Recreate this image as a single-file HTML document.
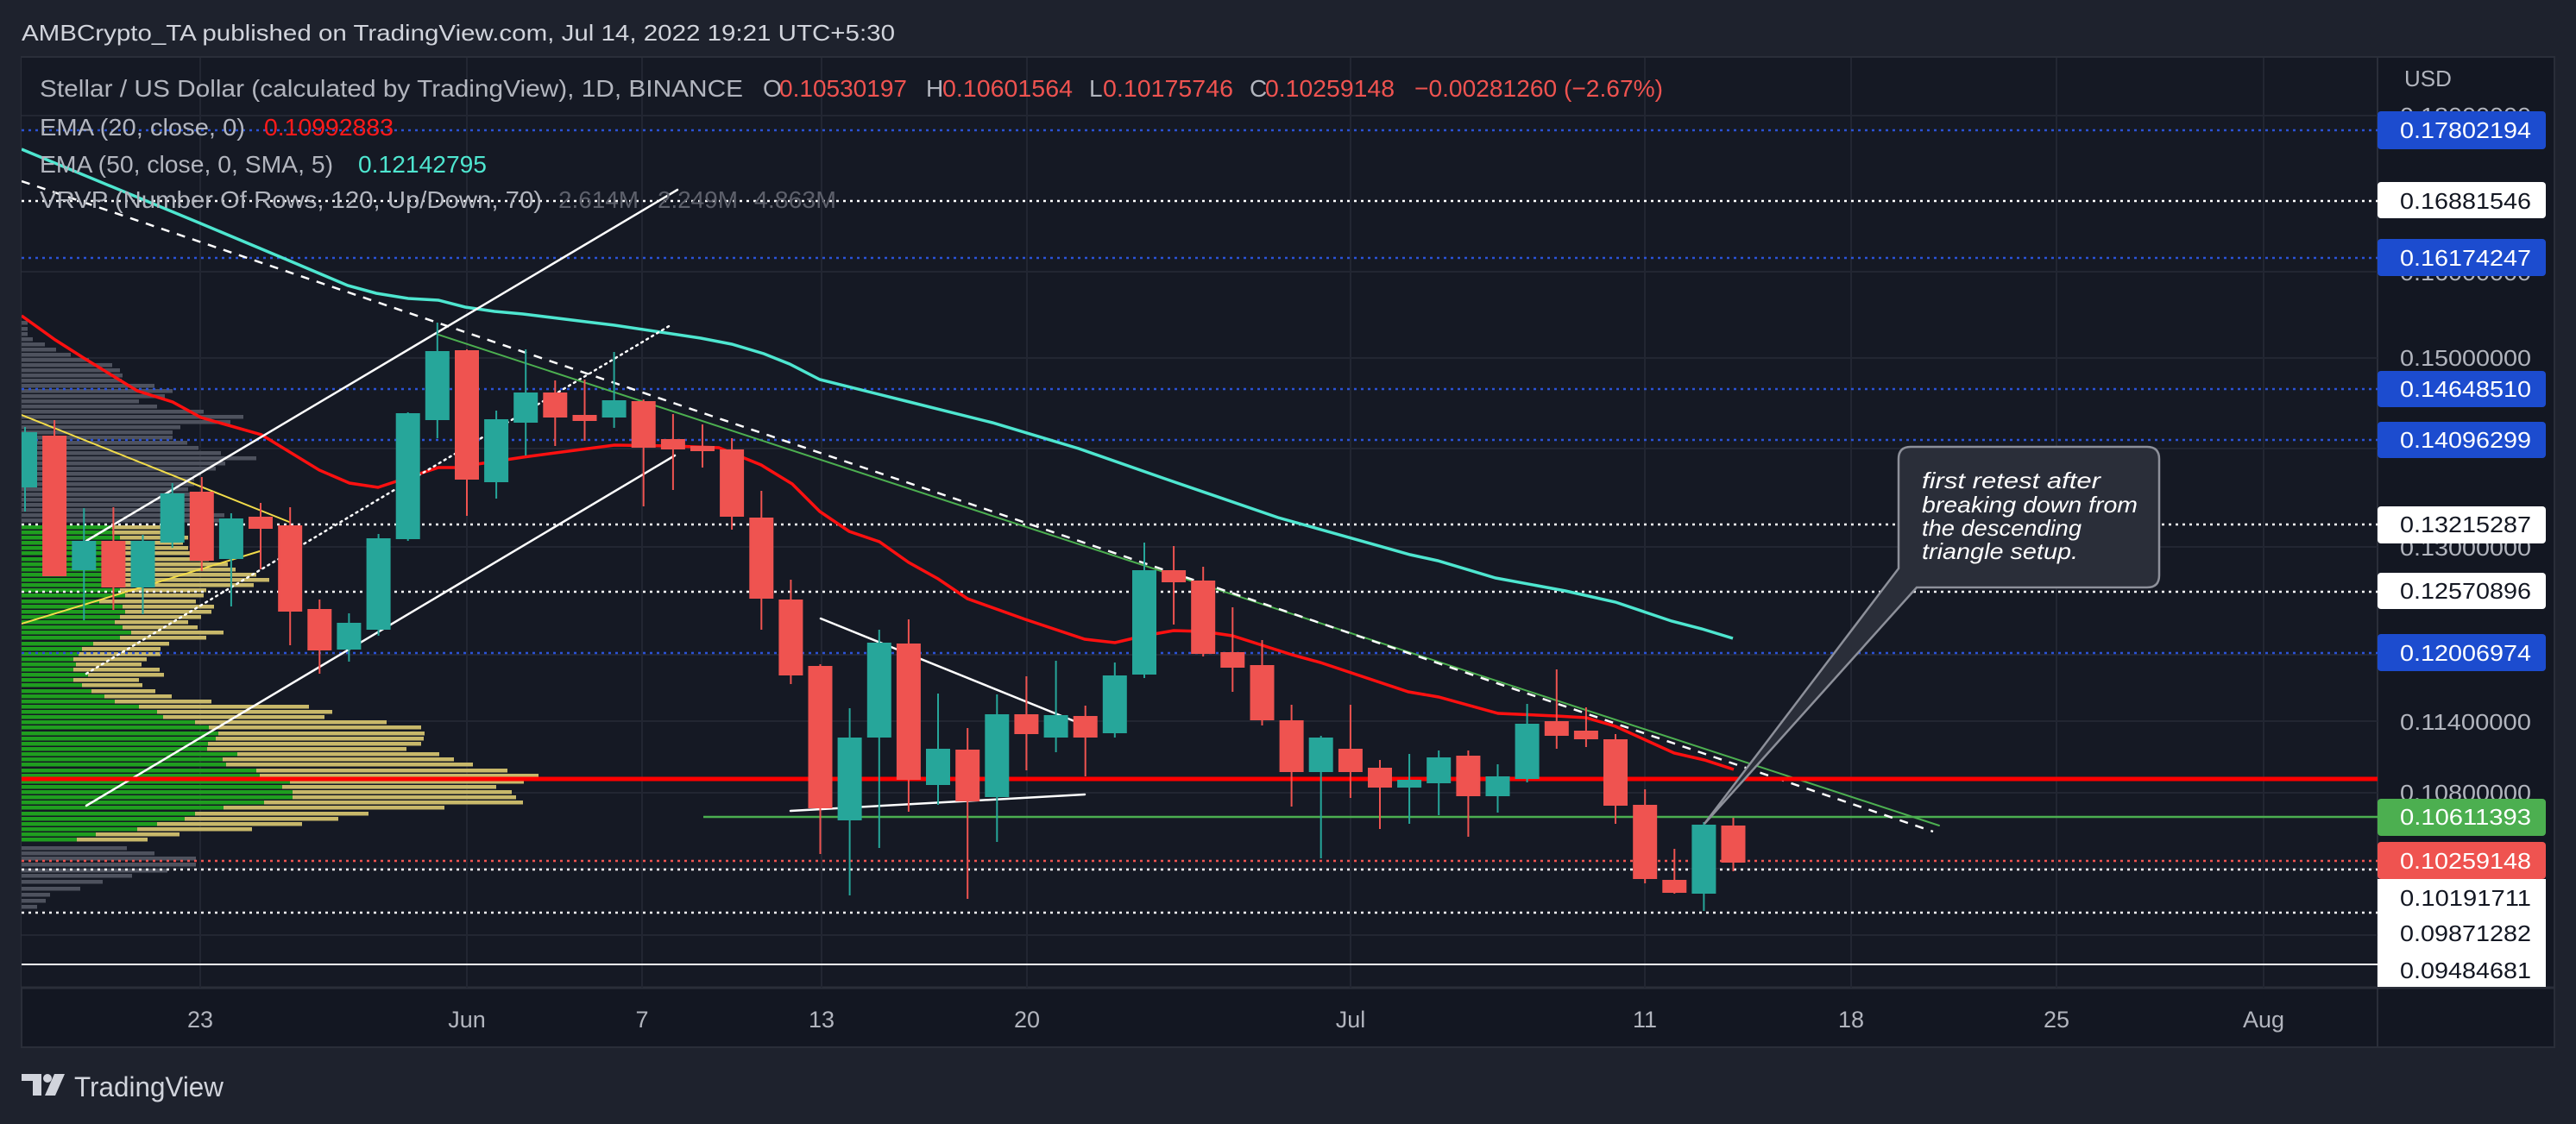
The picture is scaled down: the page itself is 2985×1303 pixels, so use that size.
<!DOCTYPE html>
<html><head><meta charset="utf-8"><style>
html,body{margin:0;padding:0;background:#1e222d;}
svg{display:block;font-family:"Liberation Sans",sans-serif;}
</style></head><body>
<svg width="2985" height="1303" viewBox="0 0 2985 1303" xmlns="http://www.w3.org/2000/svg">
<defs><clipPath id="pc"><rect x="25" y="67" width="2730" height="1078"/></clipPath></defs>
<rect width="2985" height="1303" fill="#1e222d"/>
<rect x="25" y="66" width="2935" height="1148" fill="#131722" stroke="#2a2e39" stroke-width="2"/>
<rect x="25" y="67" width="2730" height="1078" fill="#151924"/>
<line x1="2755" y1="66" x2="2755" y2="1214" stroke="#2a2e39" stroke-width="2"/>
<line x1="25" y1="1145" x2="2960" y2="1145" stroke="#2a2e39" stroke-width="3"/>

<g stroke="#222632" stroke-width="2">
<line x1="25" y1="134" x2="2755" y2="134"/><line x1="25" y1="315" x2="2755" y2="315"/><line x1="25" y1="415" x2="2755" y2="415"/><line x1="25" y1="520" x2="2755" y2="520"/><line x1="25" y1="634" x2="2755" y2="634"/><line x1="25" y1="759" x2="2755" y2="759"/><line x1="25" y1="836" x2="2755" y2="836"/><line x1="25" y1="919" x2="2755" y2="919"/><line x1="25" y1="1007" x2="2755" y2="1007"/><line x1="25" y1="1084" x2="2755" y2="1084"/>
<line x1="232" y1="67" x2="232" y2="1145"/><line x1="541" y1="67" x2="541" y2="1145"/><line x1="744" y1="67" x2="744" y2="1145"/><line x1="952" y1="67" x2="952" y2="1145"/><line x1="1190" y1="67" x2="1190" y2="1145"/><line x1="1565" y1="67" x2="1565" y2="1145"/><line x1="1906" y1="67" x2="1906" y2="1145"/><line x1="2145" y1="67" x2="2145" y2="1145"/><line x1="2383" y1="67" x2="2383" y2="1145"/><line x1="2623" y1="67" x2="2623" y2="1145"/>
</g>

<g clip-path="url(#pc)">
<!-- volume profile gray upper -->
<g fill="#4e525e">
<rect x="25" y="372" width="7" height="4.5"/><rect x="25" y="379" width="7" height="4.5"/><rect x="25" y="385" width="7" height="4.5"/><rect x="25" y="391" width="13" height="4.5"/><rect x="25" y="397" width="27" height="4.5"/><rect x="25" y="403" width="40" height="4.5"/><rect x="25" y="409" width="57" height="4.5"/><rect x="25" y="415" width="78" height="4.5"/><rect x="25" y="421" width="105" height="4.5"/><rect x="25" y="427" width="114" height="4.5"/><rect x="25" y="433" width="117" height="4.5"/><rect x="25" y="439" width="116" height="4.5"/><rect x="25" y="445" width="154" height="4.5"/><rect x="25" y="451" width="175" height="4.5"/><rect x="25" y="457" width="166" height="4.5"/><rect x="25" y="463" width="136" height="4.5"/><rect x="25" y="469" width="157" height="4.5"/><rect x="25" y="475" width="211" height="4.5"/><rect x="25" y="481" width="257" height="4.5"/><rect x="25" y="487" width="242" height="4.5"/><rect x="25" y="493" width="184" height="4.5"/><rect x="25" y="499" width="175" height="4.5"/><rect x="25" y="505" width="175" height="4.5"/><rect x="25" y="511" width="192" height="4.5"/><rect x="25" y="517" width="205" height="4.5"/><rect x="25" y="523" width="231" height="4.5"/><rect x="25" y="529" width="272" height="4.5"/><rect x="25" y="535" width="236" height="4.5"/><rect x="25" y="541" width="225" height="4.5"/><rect x="25" y="547" width="208" height="4.5"/><rect x="25" y="553" width="200" height="4.5"/><rect x="25" y="559" width="200" height="4.5"/><rect x="25" y="565" width="193" height="4.5"/><rect x="25" y="571" width="200" height="4.5"/><rect x="25" y="577" width="200" height="4.5"/><rect x="25" y="583" width="200" height="4.5"/><rect x="25" y="589" width="218" height="4.5"/><rect x="25" y="595" width="235" height="4.5"/><rect x="25" y="601" width="236" height="4.5"/>
<rect x="25" y="981" width="122" height="4.5"/><rect x="25" y="987" width="154" height="4.5"/><rect x="25" y="993" width="202" height="4.5"/><rect x="25" y="1000" width="202" height="4.5"/><rect x="25" y="1007" width="169" height="4.5"/><rect x="25" y="1013" width="128" height="4.5"/><rect x="25" y="1020" width="94" height="4.5"/><rect x="25" y="1028" width="68" height="4.5"/><rect x="25" y="1035" width="33" height="4.5"/><rect x="25" y="1042" width="28" height="4.5"/><rect x="25" y="1049" width="18" height="4.5"/>
</g>
<!-- yellow (down) parts -->
<g fill="#c8b86a">
<rect x="25" y="609" width="175" height="4.5"/><rect x="25" y="615" width="175" height="4.5"/><rect x="25" y="621" width="193" height="4.5"/><rect x="25" y="627" width="187" height="4.5"/><rect x="25" y="633" width="193" height="4.5"/><rect x="25" y="639" width="217" height="4.5"/><rect x="25" y="646" width="217" height="4.5"/><rect x="25" y="652" width="239" height="4.5"/><rect x="25" y="658" width="248" height="4.5"/><rect x="25" y="664" width="272" height="4.5"/><rect x="25" y="670" width="287" height="4.5"/><rect x="25" y="676" width="269" height="4.5"/><rect x="25" y="682" width="214" height="4.5"/><rect x="25" y="688" width="211" height="4.5"/><rect x="25" y="695" width="202" height="4.5"/><rect x="25" y="701" width="223" height="4.5"/><rect x="25" y="707" width="220" height="4.5"/><rect x="25" y="713" width="208" height="4.5"/><rect x="25" y="719" width="193" height="4.5"/><rect x="25" y="725" width="204" height="4.5"/><rect x="25" y="731" width="234" height="4.5"/><rect x="25" y="737" width="214" height="4.5"/><rect x="25" y="744" width="171" height="4.5"/><rect x="25" y="750" width="161" height="4.5"/><rect x="25" y="756" width="161" height="4.5"/><rect x="25" y="762" width="145" height="4.5"/><rect x="25" y="768" width="139" height="4.5"/><rect x="25" y="774" width="160" height="4.5"/><rect x="25" y="780" width="165" height="4.5"/><rect x="25" y="786" width="136" height="4.5"/><rect x="25" y="792" width="140" height="4.5"/><rect x="25" y="799" width="155" height="4.5"/><rect x="25" y="805" width="174" height="4.5"/><rect x="25" y="811" width="220" height="4.5"/><rect x="25" y="817" width="333" height="4.5"/><rect x="25" y="823" width="360" height="4.5"/><rect x="25" y="829" width="351" height="4.5"/><rect x="25" y="835" width="423" height="4.5"/><rect x="25" y="841" width="463" height="4.5"/><rect x="25" y="848" width="467" height="4.5"/><rect x="25" y="854" width="466" height="4.5"/><rect x="25" y="860" width="463" height="4.5"/><rect x="25" y="866" width="446" height="4.5"/><rect x="25" y="872" width="484" height="4.5"/><rect x="25" y="878" width="501" height="4.5"/><rect x="25" y="884" width="523" height="4.5"/><rect x="25" y="891" width="563" height="4.5"/><rect x="25" y="897" width="599" height="4.5"/><rect x="25" y="904" width="582" height="4.5"/><rect x="25" y="910" width="550" height="4.5"/><rect x="25" y="916" width="568" height="4.5"/><rect x="25" y="922" width="573" height="4.5"/><rect x="25" y="928" width="581" height="4.5"/><rect x="25" y="934" width="490" height="4.5"/><rect x="25" y="941" width="402" height="4.5"/><rect x="25" y="947" width="367" height="4.5"/><rect x="25" y="953" width="325" height="4.5"/><rect x="25" y="959" width="267" height="4.5"/><rect x="25" y="965" width="183" height="4.5"/><rect x="25" y="971" width="146" height="4.5"/>
</g>
<g fill="#1f9e1f">
<rect x="25" y="609" width="105" height="4.5"/><rect x="25" y="615" width="105" height="4.5"/><rect x="25" y="621" width="114" height="4.5"/><rect x="25" y="627" width="111" height="4.5"/><rect x="25" y="633" width="111" height="4.5"/><rect x="25" y="639" width="114" height="4.5"/><rect x="25" y="646" width="105" height="4.5"/><rect x="25" y="652" width="120" height="4.5"/><rect x="25" y="658" width="117" height="4.5"/><rect x="25" y="664" width="114" height="4.5"/><rect x="25" y="670" width="120" height="4.5"/><rect x="25" y="676" width="117" height="4.5"/><rect x="25" y="682" width="114" height="4.5"/><rect x="25" y="688" width="120" height="4.5"/><rect x="25" y="695" width="90" height="4.5"/><rect x="25" y="701" width="117" height="4.5"/><rect x="25" y="707" width="120" height="4.5"/><rect x="25" y="713" width="114" height="4.5"/><rect x="25" y="719" width="108" height="4.5"/><rect x="25" y="725" width="117" height="4.5"/><rect x="25" y="731" width="127" height="4.5"/><rect x="25" y="737" width="114" height="4.5"/><rect x="25" y="744" width="83" height="4.5"/><rect x="25" y="750" width="70" height="4.5"/><rect x="25" y="756" width="66" height="4.5"/><rect x="25" y="762" width="60" height="4.5"/><rect x="25" y="768" width="63" height="4.5"/><rect x="25" y="774" width="60" height="4.5"/><rect x="25" y="780" width="77" height="4.5"/><rect x="25" y="786" width="60" height="4.5"/><rect x="25" y="792" width="70" height="4.5"/><rect x="25" y="799" width="81" height="4.5"/><rect x="25" y="805" width="96" height="4.5"/><rect x="25" y="811" width="108" height="4.5"/><rect x="25" y="817" width="136" height="4.5"/><rect x="25" y="823" width="157" height="4.5"/><rect x="25" y="829" width="164" height="4.5"/><rect x="25" y="835" width="201" height="4.5"/><rect x="25" y="841" width="217" height="4.5"/><rect x="25" y="848" width="228" height="4.5"/><rect x="25" y="854" width="225" height="4.5"/><rect x="25" y="860" width="216" height="4.5"/><rect x="25" y="866" width="215" height="4.5"/><rect x="25" y="872" width="250" height="4.5"/><rect x="25" y="878" width="233" height="4.5"/><rect x="25" y="884" width="237" height="4.5"/><rect x="25" y="891" width="272" height="4.5"/><rect x="25" y="897" width="276" height="4.5"/><rect x="25" y="904" width="311" height="4.5"/><rect x="25" y="910" width="302" height="4.5"/><rect x="25" y="916" width="314" height="4.5"/><rect x="25" y="922" width="314" height="4.5"/><rect x="25" y="928" width="281" height="4.5"/><rect x="25" y="934" width="234" height="4.5"/><rect x="25" y="941" width="201" height="4.5"/><rect x="25" y="947" width="189" height="4.5"/><rect x="25" y="953" width="157" height="4.5"/><rect x="25" y="959" width="134" height="4.5"/><rect x="25" y="965" width="86" height="4.5"/><rect x="25" y="971" width="64" height="4.5"/>
</g>

<!-- horizontal levels -->
<g stroke-width="2.5" fill="none">
<g stroke="#2b52d6" stroke-dasharray="3 5"><line x1="25" y1="151" x2="2755" y2="151"/><line x1="25" y1="299" x2="2755" y2="299"/><line x1="25" y1="451" x2="2755" y2="451"/><line x1="25" y1="510" x2="2755" y2="510"/><line x1="25" y1="757" x2="2755" y2="757"/></g>
<g stroke="#ffffff" stroke-dasharray="3 5"><line x1="25" y1="233" x2="2755" y2="233"/><line x1="25" y1="608" x2="2755" y2="608"/><line x1="25" y1="686" x2="2755" y2="686"/><line x1="25" y1="1008" x2="2755" y2="1008"/><line x1="25" y1="1058" x2="2755" y2="1058"/></g>
<line x1="25" y1="998" x2="2755" y2="998" stroke="#ef5350" stroke-dasharray="3 5"/>
<line x1="25" y1="1118" x2="2755" y2="1118" stroke="#ffffff" stroke-width="2"/>
<line x1="815" y1="947" x2="2755" y2="947" stroke="#4caf50" stroke-width="2.5"/>
</g>

<!-- EMAs -->
<polyline fill="none" stroke="#4ee6d0" stroke-width="3.5" points="25,173 230,258 330,300 403,331 436,340 473,346 508,348 539,356 573,361 606,364 679,373 712,377 812,392 848,399 885,410 915,422 950,440 1050,465 1150,490 1250,520 1350,555 1481,600 1634,643 1666,650 1733,670 1814,685 1872,698 1937,720 1972,729 2008,740"/>
<polyline fill="none" stroke="#ff1010" stroke-width="3.5" points="25,366 64,394 97,415 159,453 200,466 233,484 303,504 370,545 405,560 438,565 508,542 527,542 606,530 712,516 779,517 833,519 882,539 918,561 950,593 984,616 1019,628 1053,652 1087,671 1121,694 1188,718 1257,741 1292,745 1326,737 1360,731 1394,732 1428,737 1497,759 1530,768 1632,802 1667,808 1736,827 1803,830 1838,832 1872,842 1940,873 1975,881 2009,892"/>

<!-- drawings -->
<g fill="none" stroke-linecap="round">
<line x1="25" y1="481" x2="335" y2="605" stroke="#f2dc4a" stroke-width="2"/>
<line x1="25" y1="723" x2="301" y2="639" stroke="#f2dc4a" stroke-width="2"/>
<line x1="100" y1="627" x2="785" y2="220" stroke="#ffffff" stroke-width="2.5"/>
<line x1="100" y1="934" x2="782" y2="528" stroke="#ffffff" stroke-width="2.5"/>
<line x1="100" y1="781" x2="777" y2="377" stroke="#ffffff" stroke-width="2.5" stroke-dasharray="2 5"/>
<line x1="951" y1="717" x2="1245" y2="836" stroke="#ffffff" stroke-width="2.5"/>
<line x1="916" y1="940" x2="1257" y2="921" stroke="#ffffff" stroke-width="2.5"/>
<line x1="508" y1="388" x2="2247" y2="957" stroke="#4caf50" stroke-width="2"/>
<line x1="25" y1="210" x2="2240" y2="964" stroke="#ffffff" stroke-width="2.5" stroke-dasharray="10 9" stroke-linecap="butt"/>
</g>
<line x1="25" y1="903" x2="2755" y2="903" stroke="#ff0000" stroke-width="5"/>

<!-- candles -->
<g stroke-width="2">
<g stroke="#26a69a" fill="#26a69a">
<line x1="29" y1="495" x2="29" y2="593"/><rect x="16" y="502" width="26" height="62"/>
<line x1="97.3" y1="589" x2="97.3" y2="719"/><rect x="84.3" y="628" width="26" height="32"/>
<line x1="165.5" y1="620" x2="165.5" y2="712"/><rect x="152.5" y="628" width="26" height="52"/>
<line x1="199.7" y1="560" x2="199.7" y2="635"/><rect x="186.7" y="573" width="26" height="55"/>
<line x1="267.9" y1="595" x2="267.9" y2="703"/><rect x="254.9" y="602" width="26" height="45"/>
<line x1="404.4" y1="711" x2="404.4" y2="767"/><rect x="391.4" y="723" width="26" height="29"/>
<line x1="438.6" y1="619" x2="438.6" y2="737"/><rect x="425.6" y="625" width="26" height="104"/>
<line x1="472.7" y1="478" x2="472.7" y2="627"/><rect x="459.7" y="480" width="26" height="144"/>
<line x1="506.8" y1="374" x2="506.8" y2="508"/><rect x="493.8" y="408" width="26" height="78"/>
<line x1="575.1" y1="476" x2="575.1" y2="578"/><rect x="562.1" y="487" width="26" height="71"/>
<line x1="609.2" y1="405" x2="609.2" y2="528"/><rect x="596.2" y="456" width="26" height="33"/>
<line x1="711.6" y1="408" x2="711.6" y2="496"/><rect x="698.6" y="465" width="26" height="18"/>
<line x1="984.6" y1="821" x2="984.6" y2="1038"/><rect x="971.6" y="856" width="26" height="94"/>
<line x1="1018.8" y1="730" x2="1018.8" y2="983"/><rect x="1005.8" y="746" width="26" height="108"/>
<line x1="1087" y1="804" x2="1087" y2="933"/><rect x="1074" y="869" width="26" height="40"/>
<line x1="1155.3" y1="805" x2="1155.3" y2="976"/><rect x="1142.3" y="829" width="26" height="94"/>
<line x1="1223.6" y1="766" x2="1223.6" y2="872"/><rect x="1210.6" y="830" width="26" height="24"/>
<line x1="1291.8" y1="768" x2="1291.8" y2="855"/><rect x="1278.8" y="784" width="26" height="65"/>
<line x1="1326" y1="629" x2="1326" y2="786"/><rect x="1313" y="662" width="26" height="119"/>
<line x1="1530.7" y1="853" x2="1530.7" y2="995"/><rect x="1517.7" y="856" width="26" height="38"/>
<line x1="1633.1" y1="874" x2="1633.1" y2="955"/><rect x="1620.1" y="905" width="26" height="7"/>
<line x1="1667.2" y1="870" x2="1667.2" y2="945"/><rect x="1654.2" y="879" width="26" height="28"/>
<line x1="1735.5" y1="886" x2="1735.5" y2="942"/><rect x="1722.5" y="901" width="26" height="21"/>
<line x1="1769.6" y1="816" x2="1769.6" y2="907"/><rect x="1756.6" y="840" width="26" height="62"/>
<line x1="1974.4" y1="953" x2="1974.4" y2="1056"/><rect x="1961.4" y="957" width="26" height="78"/>
</g>
<g stroke="#ef5350" fill="#ef5350">
<line x1="63.1" y1="487" x2="63.1" y2="667"/><rect x="50.1" y="506" width="26" height="161"/>
<line x1="131.4" y1="588" x2="131.4" y2="707"/><rect x="118.4" y="628" width="26" height="52"/>
<line x1="233.8" y1="553" x2="233.8" y2="662"/><rect x="220.8" y="571" width="26" height="78"/>
<line x1="302" y1="583" x2="302" y2="660"/><rect x="289" y="600" width="26" height="12"/>
<line x1="336.2" y1="588" x2="336.2" y2="748"/><rect x="323.2" y="610" width="26" height="98"/>
<line x1="370.3" y1="695" x2="370.3" y2="781"/><rect x="357.3" y="707" width="26" height="46"/>
<line x1="541" y1="405" x2="541" y2="598"/><rect x="528" y="407" width="26" height="148"/>
<line x1="643.3" y1="441" x2="643.3" y2="517"/><rect x="630.3" y="456" width="26" height="27"/>
<line x1="677.5" y1="440" x2="677.5" y2="511"/><rect x="664.5" y="482" width="26" height="5"/>
<line x1="745.7" y1="463" x2="745.7" y2="587"/><rect x="732.7" y="466" width="26" height="52"/>
<line x1="779.9" y1="480" x2="779.9" y2="568"/><rect x="766.9" y="510" width="26" height="10"/>
<line x1="814" y1="492" x2="814" y2="542"/><rect x="801" y="518" width="26" height="4"/>
<line x1="848.1" y1="508" x2="848.1" y2="614"/><rect x="835.1" y="522" width="26" height="76"/>
<line x1="882.3" y1="569" x2="882.3" y2="730"/><rect x="869.3" y="601" width="26" height="92"/>
<line x1="916.4" y1="672" x2="916.4" y2="793"/><rect x="903.4" y="696" width="26" height="86"/>
<line x1="950.5" y1="770" x2="950.5" y2="990"/><rect x="937.5" y="773" width="26" height="163"/>
<line x1="1052.9" y1="718" x2="1052.9" y2="941"/><rect x="1039.9" y="747" width="26" height="156"/>
<line x1="1121.2" y1="844" x2="1121.2" y2="1042"/><rect x="1108.2" y="870" width="26" height="58"/>
<line x1="1189.4" y1="784" x2="1189.4" y2="893"/><rect x="1176.4" y="829" width="26" height="21"/>
<line x1="1257.7" y1="818" x2="1257.7" y2="900"/><rect x="1244.7" y="831" width="26" height="23"/>
<line x1="1360.1" y1="633" x2="1360.1" y2="724"/><rect x="1347.1" y="662" width="26" height="12"/>
<line x1="1394.2" y1="657" x2="1394.2" y2="761"/><rect x="1381.2" y="674" width="26" height="83"/>
<line x1="1428.3" y1="704" x2="1428.3" y2="802"/><rect x="1415.3" y="757" width="26" height="16"/>
<line x1="1462.5" y1="742" x2="1462.5" y2="841"/><rect x="1449.5" y="772" width="26" height="62"/>
<line x1="1496.6" y1="817" x2="1496.6" y2="935"/><rect x="1483.6" y="836" width="26" height="58"/>
<line x1="1564.9" y1="817" x2="1564.9" y2="925"/><rect x="1551.9" y="869" width="26" height="25"/>
<line x1="1599" y1="881" x2="1599" y2="961"/><rect x="1586" y="891" width="26" height="21"/>
<line x1="1701.4" y1="870" x2="1701.4" y2="970"/><rect x="1688.4" y="877" width="26" height="45"/>
<line x1="1803.8" y1="776" x2="1803.8" y2="868"/><rect x="1790.8" y="837" width="26" height="15"/>
<line x1="1837.9" y1="820" x2="1837.9" y2="866"/><rect x="1824.9" y="848" width="26" height="8"/>
<line x1="1872" y1="851" x2="1872" y2="955"/><rect x="1859" y="858" width="26" height="75"/>
<line x1="1906.2" y1="915" x2="1906.2" y2="1024"/><rect x="1893.2" y="934" width="26" height="84"/>
<line x1="1940.3" y1="984" x2="1940.3" y2="1036"/><rect x="1927.3" y="1021" width="26" height="13"/>
<line x1="2008.5" y1="948" x2="2008.5" y2="1010"/><rect x="1995.5" y="958" width="26" height="41"/>
</g>
</g>

<!-- callout -->
<path d="M2214,518 H2488 Q2502,518 2502,532 V667 Q2502,681 2488,681 H2221 L1975,955 L2200,659 V532 Q2200,518 2214,518 Z" fill="#2a2e39" stroke="#8d909a" stroke-width="2.5"/>
<g fill="#ffffff" font-style="italic" font-size="26">
<text x="2227" y="566" textLength="207" lengthAdjust="spacingAndGlyphs">first retest after</text>
<text x="2227" y="594" textLength="250" lengthAdjust="spacingAndGlyphs">breaking down from</text>
<text x="2227" y="621" textLength="185" lengthAdjust="spacingAndGlyphs">the descending</text>
<text x="2227" y="648" textLength="181" lengthAdjust="spacingAndGlyphs">triangle setup.</text>
</g>
</g>

<!-- header & legend -->
<text x="25" y="47" font-size="26" fill="#d1d4dc" textLength="1012" lengthAdjust="spacingAndGlyphs">AMBCrypto_TA published on TradingView.com, Jul 14, 2022 19:21 UTC+5:30</text>
<g font-size="28">
<text x="46" y="112" fill="#b2b5be" textLength="815" lengthAdjust="spacingAndGlyphs">Stellar / US Dollar (calculated by TradingView), 1D, BINANCE</text>
<text x="884" y="112" fill="#b2b5be">O</text><text x="903" y="112" fill="#ef5350" textLength="148" lengthAdjust="spacingAndGlyphs">0.10530197</text>
<text x="1073" y="112" fill="#b2b5be">H</text><text x="1092" y="112" fill="#ef5350" textLength="151" lengthAdjust="spacingAndGlyphs">0.10601564</text>
<text x="1262" y="112" fill="#b2b5be">L</text><text x="1278" y="112" fill="#ef5350" textLength="151" lengthAdjust="spacingAndGlyphs">0.10175746</text>
<text x="1448" y="112" fill="#b2b5be">C</text><text x="1466" y="112" fill="#ef5350" textLength="150" lengthAdjust="spacingAndGlyphs">0.10259148</text>
<text x="1639" y="112" fill="#ef5350" textLength="288" lengthAdjust="spacingAndGlyphs">−0.00281260 (−2.67%)</text>
<text x="46" y="157" fill="#b2b5be" textLength="238" lengthAdjust="spacingAndGlyphs">EMA (20, close, 0)</text>
<text x="306" y="157" fill="#ff1a1a" textLength="150" lengthAdjust="spacingAndGlyphs">0.10992883</text>
<text x="46" y="200" fill="#b2b5be" textLength="340" lengthAdjust="spacingAndGlyphs">EMA (50, close, 0, SMA, 5)</text>
<text x="415" y="200" fill="#4ee6d0" textLength="149" lengthAdjust="spacingAndGlyphs">0.12142795</text>
<text x="46" y="241" fill="#b2b5be" textLength="582" lengthAdjust="spacingAndGlyphs">VRVP (Number Of Rows, 120, Up/Down, 70)</text>
<text x="647" y="241" fill="#5d606b" textLength="93" lengthAdjust="spacingAndGlyphs">2.614M</text>
<text x="762" y="241" fill="#5d606b" textLength="93" lengthAdjust="spacingAndGlyphs">2.249M</text>
<text x="874" y="241" fill="#5d606b" textLength="95" lengthAdjust="spacingAndGlyphs">4.863M</text>
</g>

<!-- price axis -->
<g font-size="26">
<text x="2786" y="100" fill="#b2b5be">USD</text>
<g fill="#b2b5be">
<text x="2781" y="143" textLength="152" lengthAdjust="spacingAndGlyphs">0.18000000</text>
<text x="2781" y="325" textLength="152" lengthAdjust="spacingAndGlyphs">0.16000000</text>
<text x="2781" y="424" textLength="152" lengthAdjust="spacingAndGlyphs">0.15000000</text>
<text x="2781" y="644" textLength="152" lengthAdjust="spacingAndGlyphs">0.13000000</text>
<text x="2781" y="846" textLength="152" lengthAdjust="spacingAndGlyphs">0.11400000</text>
<text x="2781" y="928" textLength="152" lengthAdjust="spacingAndGlyphs">0.10800000</text>
</g>
<rect x="2755" y="129" width="195" height="44" rx="4" fill="#1c4ccf"/>
<rect x="2755" y="211" width="195" height="42" rx="4" fill="#ffffff"/>
<rect x="2755" y="277" width="195" height="43" rx="4" fill="#1c4ccf"/>
<rect x="2755" y="430" width="195" height="42" rx="4" fill="#1c4ccf"/>
<rect x="2755" y="489" width="195" height="42" rx="4" fill="#1c4ccf"/>
<rect x="2755" y="587" width="195" height="43" rx="4" fill="#ffffff"/>
<rect x="2755" y="664" width="195" height="42" rx="4" fill="#ffffff"/>
<rect x="2755" y="735" width="195" height="43" rx="4" fill="#1c4ccf"/>
<rect x="2755" y="926" width="195" height="43" rx="4" fill="#4caf50"/>
<rect x="2755" y="976" width="195" height="43" rx="4" fill="#ef5350"/>
<rect x="2755" y="1019" width="195" height="125" fill="#ffffff"/>
<g fill="#ffffff">
<text x="2781" y="160" textLength="152" lengthAdjust="spacingAndGlyphs">0.17802194</text>
<text x="2781" y="308" textLength="152" lengthAdjust="spacingAndGlyphs">0.16174247</text>
<text x="2781" y="460" textLength="152" lengthAdjust="spacingAndGlyphs">0.14648510</text>
<text x="2781" y="519" textLength="152" lengthAdjust="spacingAndGlyphs">0.14096299</text>
<text x="2781" y="766" textLength="152" lengthAdjust="spacingAndGlyphs">0.12006974</text>
<text x="2781" y="956" textLength="152" lengthAdjust="spacingAndGlyphs">0.10611393</text>
<text x="2781" y="1007" textLength="152" lengthAdjust="spacingAndGlyphs">0.10259148</text>
</g>
<g fill="#131722">
<text x="2781" y="242" textLength="152" lengthAdjust="spacingAndGlyphs">0.16881546</text>
<text x="2781" y="617" textLength="152" lengthAdjust="spacingAndGlyphs">0.13215287</text>
<text x="2781" y="694" textLength="152" lengthAdjust="spacingAndGlyphs">0.12570896</text>
<text x="2781" y="1050" textLength="152" lengthAdjust="spacingAndGlyphs">0.10191711</text>
<text x="2781" y="1091" textLength="152" lengthAdjust="spacingAndGlyphs">0.09871282</text>
<text x="2781" y="1134" textLength="152" lengthAdjust="spacingAndGlyphs">0.09484681</text>
</g>
</g>

<!-- date axis -->
<g font-size="27" fill="#b2b5be" text-anchor="middle">
<text x="232" y="1191">23</text><text x="541" y="1191">Jun</text><text x="744" y="1191">7</text><text x="952" y="1191">13</text><text x="1190" y="1191">20</text><text x="1565" y="1191">Jul</text><text x="1906" y="1191">11</text><text x="2145" y="1191">18</text><text x="2383" y="1191">25</text><text x="2623" y="1191">Aug</text>
</g>

<!-- footer logo -->
<g fill="#d1d4dc">
<path d="M25,1245 H48 V1270 H38 V1253 H25 Z"/>
<circle cx="55" cy="1250" r="5"/>
<path d="M63,1245 H75 L64,1270 H52 Z"/>
<text x="86" y="1271" font-size="32" textLength="173" lengthAdjust="spacingAndGlyphs">TradingView</text>
</g>
</svg>
</body></html>
